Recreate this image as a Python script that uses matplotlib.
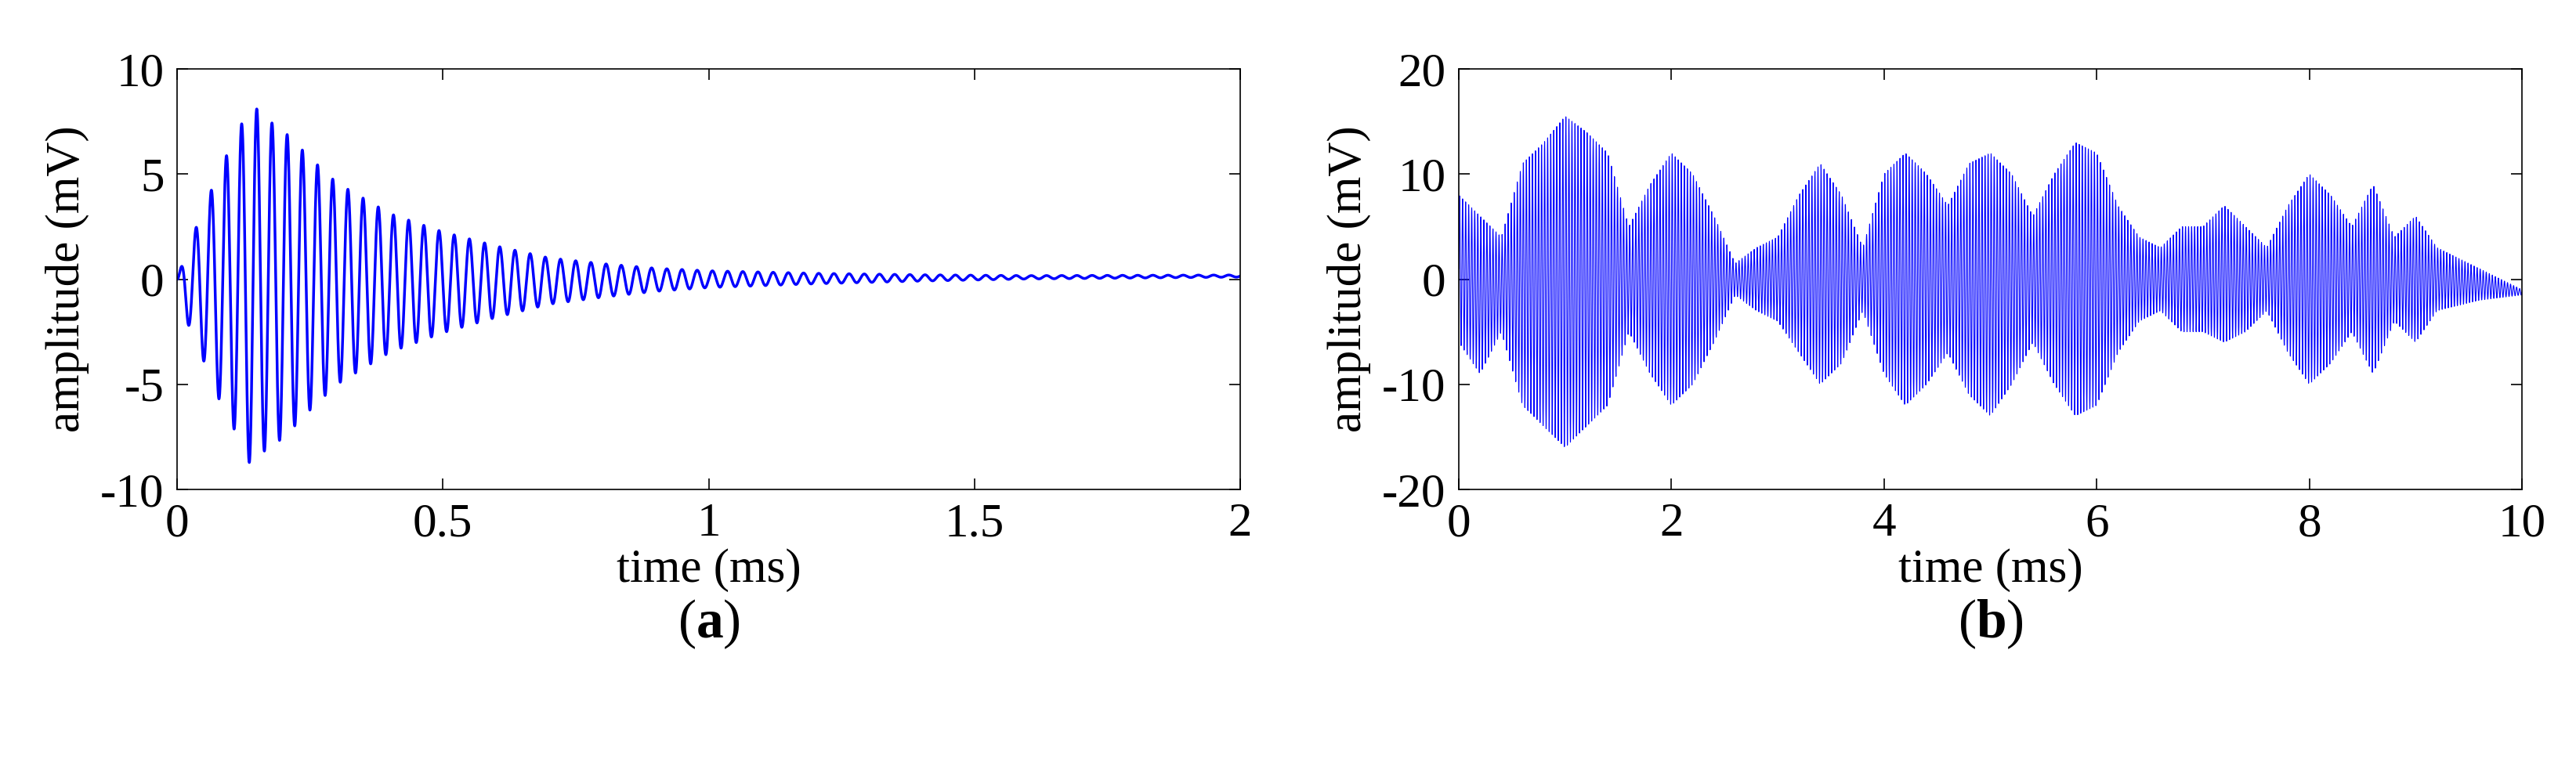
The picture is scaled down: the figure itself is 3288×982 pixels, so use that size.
import numpy as np
import matplotlib
matplotlib.use("Agg")
import matplotlib.pyplot as plt

plt.rcParams['font.family'] = ['Liberation Serif', 'DejaVu Serif']
plt.rcParams['mathtext.fontset'] = 'custom'
plt.rcParams['mathtext.rm'] = 'Liberation Serif'
plt.rcParams['mathtext.bf'] = 'Liberation Serif:bold'
plt.rcParams['axes.unicode_minus'] = False

# (a) envelope
env_a_t = [0, 0.02, 0.05, 0.08, 0.11, 0.14, 0.16, 0.2, 0.25, 0.3, 0.4, 0.5, 0.6, 0.7, 0.8, 0.9, 1.0, 1.2, 1.4, 1.6, 2.0]
env_a_v = [0, 1.8, 3.6, 5.5, 7.0, 8.7, 8.0, 7.3, 6.0, 4.8, 3.3, 2.4, 1.7, 1.1, 0.8, 0.55, 0.4, 0.25, 0.15, 0.08, 0.05]
off_a_t = [0, 1.0, 2.0]
off_a_v = [-0.3, 0.0, 0.15]
freq_a_khz = 35.0

# (b) upper / lower envelopes
env_b_t = [0, 0.2, 0.4, 0.6, 0.8, 1.0, 1.2, 1.4, 1.6, 1.8, 2.0, 2.2, 2.4, 2.6, 2.8, 3.0, 3.2, 3.4, 3.6, 3.8,
           4.0, 4.2, 4.4, 4.6, 4.8, 5.0, 5.2, 5.4, 5.6, 5.8, 6.0, 6.2, 6.4, 6.6, 6.8, 7.0, 7.2, 7.4, 7.6, 7.8,
           8.0, 8.2, 8.4, 8.6, 8.8, 9.0, 9.2, 9.6, 10.0]
env_b_up = [8, 6, 4, 11, 13, 15.5, 14, 12, 5, 9, 12, 10, 6, 1.5, 3, 4, 8, 11, 8, 3,
            10, 12, 10, 7, 11, 12, 10, 6, 10, 13, 12, 7, 4, 3, 5, 5, 7, 5, 3, 7,
            10, 8, 5, 9, 4, 6, 3, 1.0, -1.0]
env_b_lo = [-6, -9, -5, -12, -14, -16, -14, -12, -5, -9, -12, -10, -6, -1.5, -3, -4, -7, -10, -8, -3,
            -9, -12, -10, -7, -11, -13, -10, -6, -10, -13, -12, -7, -4, -3, -5, -5, -6, -5, -3, -7,
            -10, -8, -5, -9, -4, -6, -3, -2.0, -1.5]
freq_b_khz = 35.0

fig = plt.figure(figsize=(32.88, 9.82), dpi=100)
ax1 = fig.add_axes([226/3288, 1-625/982, 1357/3288, 537/982])
ax2 = fig.add_axes([1862/3288, 1-625/982, 1357/3288, 537/982])

ta = np.linspace(0, 2, 20000)
ya = np.interp(ta, env_a_t, env_a_v) * np.sin(2*np.pi*freq_a_khz*ta) + np.interp(ta, off_a_t, off_a_v) * np.interp(ta, [0, 0.02, 2], [0, 1, 1])
ax1.plot(ta, ya, color='#0000ff', lw=2.5)
ax1.set_xlim(0, 2); ax1.set_ylim(-10, 10)
ax1.set_xticks([0, 0.5, 1, 1.5, 2]); ax1.set_xticklabels(['0', '0.5', '1', '1.5', '2'])
ax1.set_yticks([-10, -5, 0, 5, 10])

tb = np.linspace(0, 10, 60000)
up = np.interp(tb, env_b_t, env_b_up)
lo = np.interp(tb, env_b_t, env_b_lo)
s = np.sin(2*np.pi*freq_b_khz*tb)
yb = (up + lo) / 2 + (up - lo) / 2 * s
ax2.plot(tb, yb, color='#0000ff', lw=0.8)
ax2.set_xlim(0, 10); ax2.set_ylim(-20, 20)
ax2.set_xticks([0, 2, 4, 6, 8, 10]); ax2.set_yticks([-20, -10, 0, 10, 20])

for ax, lab in [(ax1, '(a)'), (ax2, '(b)')]:
    ax.tick_params(direction='in', top=True, right=True, labelsize=44, length=10, width=1.2, pad=12)
    for sp in ax.spines.values():
        sp.set_linewidth(1.2)
    ax.set_xlabel('time (ms)', fontsize=44, labelpad=2)
    ax.set_ylabel('amplitude (mV)', fontsize=44, labelpad=10)
    letter = lab[1]
    ax.text(0.5, -0.32, '(' + r'$\mathbf{' + letter + '}$' + ')', transform=ax.transAxes,
            ha='center', va='center', fontsize=50)

fig.savefig('out.png', dpi=100)
